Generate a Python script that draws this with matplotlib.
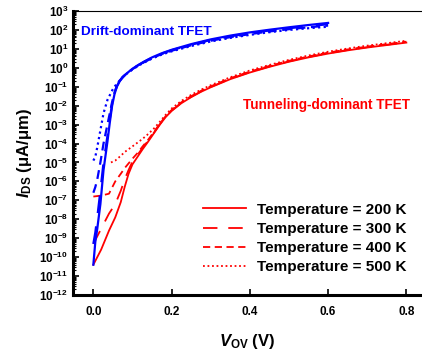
import matplotlib
matplotlib.use('Agg')
import matplotlib.pyplot as plt
from matplotlib.ticker import FuncFormatter, LogLocator, NullFormatter
import numpy as np

plt.rcParams['font.family'] = ['Liberation Sans', 'DejaVu Sans']
plt.rcParams['mathtext.fontset'] = 'custom'
plt.rcParams['mathtext.rm'] = 'Liberation Sans:bold'
plt.rcParams['mathtext.it'] = 'Liberation Sans:italic:bold'
plt.rcParams['mathtext.bf'] = 'Liberation Sans:bold'

# drift-dominant TFET (blue), log10 of I_DS in uA/um
v_drift = [0, 0.005, 0.01, 0.018, 0.026, 0.036, 0.042, 0.048, 0.054, 0.06,
           0.067, 0.075, 0.085, 0.1, 0.115, 0.13, 0.15, 0.175, 0.2, 0.25,
           0.3, 0.35, 0.4, 0.45, 0.5, 0.55, 0.6]
drift_200 = [-10.4, -9.2, -8.5, -7.2, -5.4, -3.9, -2.9, -2.0, -1.4, -1.0,
             -0.72, -0.5, -0.3, -0.05, 0.15, 0.33, 0.55, 0.77, 0.95, 1.25,
             1.5, 1.7, 1.87, 2.01, 2.14, 2.26, 2.37]
drift_300 = [-9.3, -8.7, -7.9, -6.5, -5.0, -3.6, -2.7, -1.9, -1.35, -0.98,
             -0.7, -0.49, -0.3, -0.06, 0.14, 0.32, 0.53, 0.75, 0.93, 1.22,
             1.47, 1.66, 1.83, 1.97, 2.09, 2.2, 2.3]
drift_400 = [-6.6, -6.3, -5.9, -5.0, -4.0, -3.0, -2.4, -1.8, -1.3, -0.96,
             -0.69, -0.49, -0.3, -0.07, 0.13, 0.3, 0.51, 0.73, 0.9, 1.19,
             1.43, 1.62, 1.78, 1.92, 2.04, 2.14, 2.23]
drift_500 = [-4.9, -4.7, -4.2, -3.3, -2.4, -1.7, -1.45, -1.2, -1.0, -0.85,
             -0.68, -0.5, -0.32, -0.09, 0.11, 0.28, 0.49, 0.7, 0.87, 1.15,
             1.39, 1.58, 1.74, 1.88, 2.0, 2.09, 2.17]

# tunneling-dominant TFET (red)
v_tun = [0, 0.02, 0.04, 0.056, 0.07, 0.08, 0.09, 0.1, 0.113, 0.126, 0.14,
         0.155, 0.17, 0.185, 0.2, 0.225, 0.25, 0.275, 0.3, 0.35, 0.4, 0.45,
         0.5, 0.55, 0.6, 0.65, 0.7, 0.75, 0.8]
tun_200 = [-10.4, -9.6, -8.6, -7.9, -7.1, -6.3, -5.6, -5.1, -4.7, -4.3, -3.9,
           -3.45, -3.0, -2.6, -2.28, -1.87, -1.55, -1.27, -1.03, -0.6, -0.25, 0.05,
           0.32, 0.55, 0.75, 0.92, 1.07, 1.2, 1.33]
tun_300 = [-9.3, -8.5, -7.7, -7.2, -6.5, -5.9, -5.4, -4.95, -4.6, -4.22, -3.85,
           -3.42, -2.98, -2.58, -2.26, -1.85, -1.53, -1.25, -1.01, -0.58, -0.23, 0.07,
           0.34, 0.57, 0.77, 0.94, 1.09, 1.22, 1.35]
tun_400 = [-6.8, -6.75, -6.65, -6.0, -5.6, -5.3, -5.05, -4.8, -4.5, -4.15, -3.8,
           -3.38, -2.95, -2.55, -2.23, -1.82, -1.5, -1.22, -0.98, -0.55, -0.2, 0.1,
           0.37, 0.6, 0.8, 0.97, 1.12, 1.25, 1.38]
v_tun_500 = [0.045, 0.056, 0.07, 0.08, 0.09, 0.1, 0.113, 0.126, 0.14, 0.155,
             0.17, 0.185, 0.2, 0.225, 0.25, 0.275, 0.3, 0.35, 0.4, 0.45, 0.5,
             0.55, 0.6, 0.65, 0.7, 0.75, 0.8]
tun_500 = [-5.0, -4.9, -4.65, -4.45, -4.3, -4.15, -3.95, -3.75, -3.5, -3.2,
           -2.85, -2.48, -2.15, -1.75, -1.43, -1.16, -0.92, -0.5, -0.14, 0.15, 0.42,
           0.65, 0.85, 1.02, 1.17, 1.3, 1.43]

temps = ['200', '300', '400', '500']
styles = ['-', (0, (8, 6)), (0, (4, 2.5)), (0, (1, 1.5))]

fig = plt.figure(figsize=(4.22, 3.58), dpi=100)
ax = fig.add_axes([73 / 422, 63 / 358, 349 / 422, 284 / 358])

tun_v = [v_tun, v_tun, v_tun, v_tun_500]
tun_y = [tun_200, tun_300, tun_400, tun_500]
drift_y = [drift_200, drift_300, drift_400, drift_500]

for i in range(4):
    ax.plot(tun_v[i], 10 ** np.array(tun_y[i]), color='red', lw=1.3,
            linestyle=styles[i], label='Temperature = %s K' % temps[i])
for i in range(4):
    ax.plot(v_drift, 10 ** np.array(drift_y[i]), color='blue', lw=1.6,
            linestyle=styles[i])

ax.set_yscale('log')
ax.set_ylim(1e-12, 1e3)
ax.set_xlim(-0.052, 0.84)
ax.set_xticks([0.0, 0.2, 0.4, 0.6, 0.8])
ax.xaxis.set_major_formatter(FuncFormatter(lambda v, p: '%.1f' % v))
ax.yaxis.set_major_locator(LogLocator(base=10, numticks=20))
ax.yaxis.set_minor_locator(LogLocator(base=10, subs=np.arange(2, 10), numticks=20))
ax.yaxis.set_minor_formatter(NullFormatter())
ax.yaxis.set_major_formatter(FuncFormatter(lambda v, p: r'$\mathbf{10^{%d}}$' % round(np.log10(v))))

ax.tick_params(axis='both', which='both', direction='in', labelsize=8.5)
ax.tick_params(axis='both', which='major', length=4, width=1.2)
ax.tick_params(axis='x', which='major', pad=8)
ax.tick_params(axis='y', which='minor', length=2, width=0.8)
for lab in ax.get_xticklabels():
    lab.set_fontweight('bold')

ax.spines['left'].set_linewidth(2.2)
ax.spines['bottom'].set_linewidth(2.2)
ax.spines['top'].set_linewidth(0.8)
ax.spines['right'].set_visible(False)

ax.set_ylabel(r'$I_{\rm DS}$ ($\mathbf{\mu}$A/$\mathbf{\mu}$m)', fontsize=12,
              fontweight='bold', labelpad=4)
ax.set_xlabel(r'$V_{\rm OV}$ (V)', fontsize=12, fontweight='bold', labelpad=10)

ax.text(0.022, 0.925, 'Drift-dominant TFET', transform=ax.transAxes,
        color='blue', fontsize=9.7, fontweight='bold', va='center')
ax.text(0.487, 0.67, 'Tunneling-dominant TFET', transform=ax.transAxes,
        color='red', fontsize=9.8, fontweight='bold', va='center')

leg = ax.legend(loc='upper left', bbox_to_anchor=(0.372, 0.325), frameon=False,
                fontsize=11, handlelength=2.8, handletextpad=0.72,
                labelspacing=0.34, borderpad=0, borderaxespad=0)
for t in leg.get_texts():
    t.set_fontweight('bold')

fig.savefig('out.png', dpi=100)
